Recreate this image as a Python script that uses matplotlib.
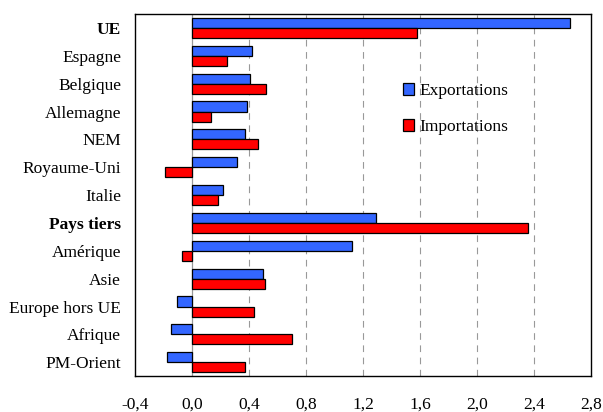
import numpy as np
import matplotlib
matplotlib.use("Agg")
import matplotlib.pyplot as plt

# data
categories = ["UE", "Espagne", "Belgique", "Allemagne", "NEM", "Royaume-Uni", "Italie",
              "Pays tiers", "Amérique", "Asie", "Europe hors UE", "Afrique", "PM-Orient"]
exportations = [2.65, 0.42, 0.405, 0.385, 0.375, 0.315, 0.215,
                1.29, 1.12, 0.50, -0.105, -0.145, -0.175]
importations = [1.58, 0.245, 0.52, 0.13, 0.465, -0.19, 0.185,
                2.36, -0.07, 0.515, 0.435, 0.70, 0.375]
bold_labels = ["UE", "Pays tiers"]
xticks = [-0.4, 0.0, 0.4, 0.8, 1.2, 1.6, 2.0, 2.4, 2.8]

plt.rcParams['font.family'] = ['Liberation Serif', 'DejaVu Serif']
fs = 12.5

fig = plt.figure(figsize=(6.03, 4.12), dpi=100)
ax = fig.add_axes([0.224, 0.087, 0.756, 0.879])

y = np.arange(len(categories))
h = 0.36
ax.barh(y - h / 2, exportations, height=h, color='#3366FF', edgecolor='black',
        linewidth=0.9, label='Exportations', zorder=3)
ax.barh(y + h / 2, importations, height=h, color='#FF0000', edgecolor='black',
        linewidth=0.9, label='Importations', zorder=3)

ax.set_ylim(len(categories) - 0.5, -0.5)
ax.set_xlim(-0.4, 2.8)

# gridlines and zero line
for v in xticks[2:-1]:
    ax.axvline(v, color='#999999', linestyle=(0, (6, 5)), linewidth=0.8, zorder=1)
ax.axvline(0, color='#999999', linewidth=0.9, zorder=2)

ax.set_xticks(xticks)
ax.set_xticklabels([f"{v:.1f}".replace('.', ',') for v in xticks], fontsize=fs,
                   va='baseline')
ax.set_yticks(y)
ax.set_yticklabels(categories, fontsize=fs)
for lbl in ax.get_yticklabels():
    if lbl.get_text() in bold_labels:
        lbl.set_fontweight('bold')
ax.tick_params(axis='x', length=0, pad=23.5)
ax.tick_params(axis='y', length=0, pad=10)

for s in ax.spines.values():
    s.set_linewidth(1.0)

ax.legend(loc='center left', bbox_to_anchor=(0.588, 0.737), frameon=False, fontsize=fs,
          handlelength=0.65, handleheight=0.65, handletextpad=0.3, labelspacing=1.15,
          borderaxespad=0, borderpad=0)

fig.savefig("out.png", dpi=100)
